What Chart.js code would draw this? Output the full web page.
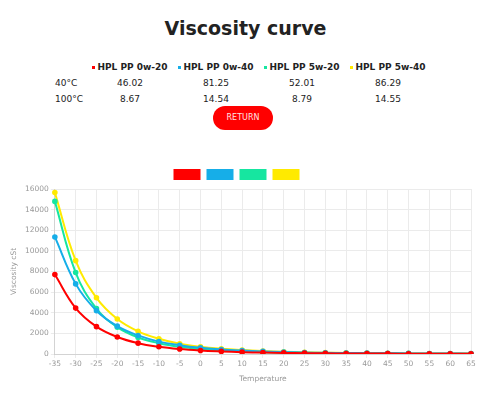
<!DOCTYPE html>
<html>
<head>
<meta charset="utf-8">
<script src="https://cdn.jsdelivr.net/npm/chart.js@4/dist/chart.umd.min.js"></script>
<style>
  body { margin: 0; background: #fff; font-family: "DejaVu Sans", sans-serif; color: #222; }
  h1 { margin: 0; position: absolute; top: 17px; width: 491px; text-align: center; font-size: 19px; font-weight: bold; color: #222; }
  table { position: absolute; top: 59px; left: 55px; border-collapse: collapse; table-layout: fixed; }
  td, th { padding: 0; height: 16px; font-size: 9px; text-align: center; white-space: nowrap; }
  th { font-size: 9px; font-weight: bold; width: 86px; }
  td.val { width: 86px; }
  .lab { text-align: left; width: 32px; }
  .sq { display: inline-block; width: 3px; height: 3px; margin-right: 2px; vertical-align: middle; }
  .btn { position: absolute; left: 213px; top: 106px; width: 60px; height: 24px; border-radius: 12px;
         background: #ff0000; color: #ffe0e0; font-size: 8px; line-height: 24px; text-align: center; }
  #wrap { position: absolute; left: 0; top: 166px; width: 491px; height: 220px; }
</style>
</head>
<body>
<h1>Viscosity curve</h1>
<table id="tbl"></table>
<div class="btn">RETURN</div>
<div id="wrap"><canvas id="myChart"></canvas></div>
<script>
// Data
const temps = ['-35', '-30', '-25', '-20', '-15', '-10', '-5', '0', '5', '10', '15', '20', '25', '30', '35', '40', '45', '50', '55', '60', '65'];
const names = ['HPL PP 0w-20', 'HPL PP 0w-40', 'HPL PP 5w-20', 'HPL PP 5w-40'];
const colors = ['#ff0000', '#16aee8', '#16e6a0', '#ffea00'];
const visc40 = ['46.02', '81.25', '52.01', '86.29'];
const visc100 = ['8.67', '14.54', '8.79', '14.55'];
const pp0w20 = [7700, 4450, 2650, 1650, 1050, 700, 480, 340, 250, 180, 140, 105, 82, 65, 52, 46.02, 38, 31, 25, 20, 17];
const pp0w40 = [11350, 6800, 4200, 2700, 1800, 1200, 850, 600, 440, 330, 250, 195, 150, 120, 98, 81.25, 68, 57, 48, 41, 35];
const pp5w20 = [14800, 7900, 4400, 2600, 1600, 1050, 700, 480, 340, 240, 175, 130, 100, 78, 63, 52.01, 43, 35, 29, 24, 20];
const pp5w40 = [15650, 9050, 5450, 3400, 2200, 1480, 1000, 700, 510, 380, 285, 215, 168, 133, 105, 86.29, 72, 60, 51, 43, 37];
const series = [pp0w20, pp0w40, pp5w20, pp5w40];

// Table
let html = '<tr><th class="lab"></th>';
names.forEach((n, i) => { html += '<th><span class="sq" style="background:' + colors[i] + '"></span>' + n + '</th>'; });
html += '</tr><tr><td class="lab">40°C</td>';
visc40.forEach(v => { html += '<td class="val">' + v + '</td>'; });
html += '</tr><tr><td class="lab">100°C</td>';
visc100.forEach(v => { html += '<td class="val">' + v + '</td>'; });
html += '</tr>';
document.getElementById('tbl').innerHTML = html;

// Graph
Chart.defaults.font.family = '"DejaVu Sans", sans-serif';
const ctx = document.getElementById('myChart');
const myChart = new Chart(ctx, {
    type: 'line',
    data: {
        labels: temps,
        datasets: series.map((s, i) => ({
            label: names[i],
            data: s,
            borderColor: colors[i],
            backgroundColor: colors[i],
            pointBackgroundColor: colors[i],
            pointBorderColor: colors[i],
            borderWidth: 2,
            pointRadius: 1.8,
            tension: 0.4,
            fill: false
        }))
    },
    options: {
        responsive: true,
        maintainAspectRatio: false,
        animation: false,
        layout: { padding: { left: 6, right: 20, top: 0, bottom: 2 } },
        plugins: {
            legend: {
                display: true,
                labels: {
                    boxWidth: 25,
                    boxHeight: 9,
                    padding: 4,
                    font: { size: 8 },
                    generateLabels: chart => Chart.defaults.plugins.legend.labels.generateLabels(chart).map(l => Object.assign(l, { text: '' }))
                }
            },
            tooltip: { enabled: false }
        },
        scales: {
            x: {
                title: { display: true, text: 'Temperature', color: '#999', font: { size: 7.5 }, padding: { top: 4, bottom: 0 } },
                ticks: { color: '#999', font: { size: 7.5 }, maxRotation: 0, padding: 2 },
                grid: { color: '#ebebeb', tickLength: 4 }
            },
            y: {
                min: 0,
                max: 16000,
                title: { display: true, text: 'Viscosity cSt', color: '#999', font: { size: 7.5 } },
                ticks: { stepSize: 2000, color: '#999', font: { size: 7.5 }, padding: 2, callback: v => String(v) },
                grid: { color: '#ebebeb', tickLength: 4 }
            }
        }
    }
});
</script>
</body>
</html>
